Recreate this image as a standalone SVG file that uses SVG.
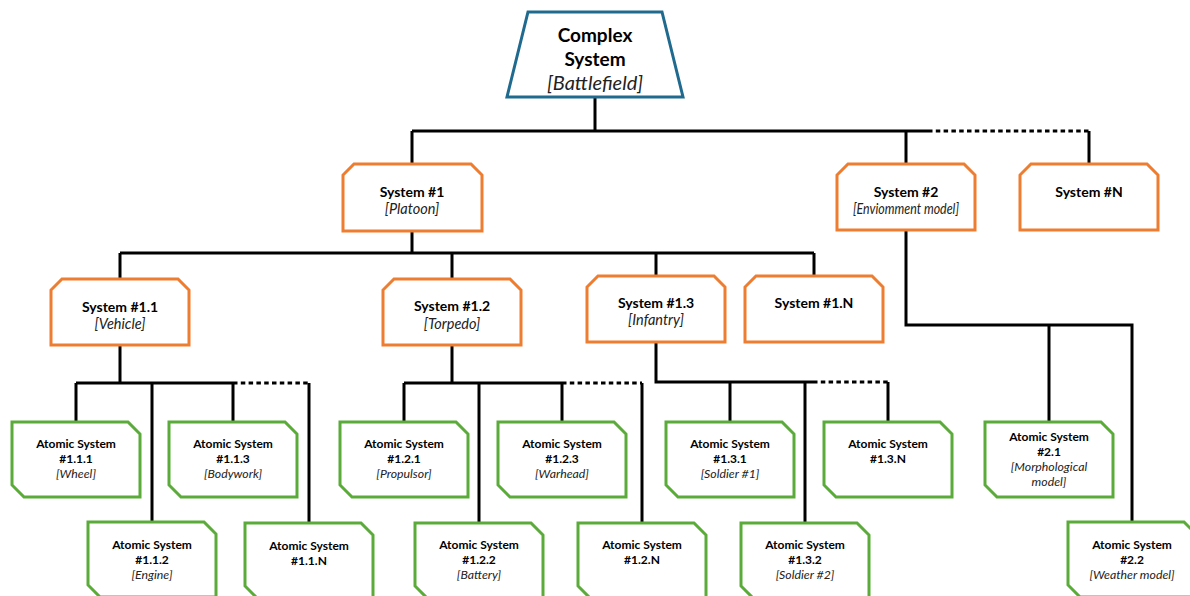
<svg xmlns="http://www.w3.org/2000/svg" width="1190" height="596" viewBox="0 0 1190 596">
<style>
.bg{fill:#ffffff}
.wire{fill:none;stroke:#000;stroke-width:3}
.dash{fill:none;stroke:#000;stroke-width:3;stroke-dasharray:4.5 3.3}
.cx{fill:#fff;stroke:#1F6A8E;stroke-width:3}
.sys{fill:#fff;stroke:#ED7D31;stroke-width:3}
.atm{fill:#fff;stroke:#5AAB3A;stroke-width:3}
text{font-family:Lato,"Liberation Sans",sans-serif;text-anchor:middle;fill:#000}
.t1{font-size:19px;font-weight:bold}
.t1i{font-size:20px;font-style:italic;fill:#222}
.t2{font-size:14px;font-weight:bold}
.t2i{font-size:14.5px;font-style:italic;fill:#222}
.t3{font-size:12px;font-weight:bold}
.t3i{font-size:12.3px;font-style:italic;fill:#222}
</style>
<rect class="bg" x="0" y="0" width="1190" height="596"/>
<g id="connectors">
<path class="wire" d="M595,98 V131 M412,131 H928 M412,131 V164 M906,131 V164 M1089,131 V164"/>
<path class="dash" d="M928,131 H1089"/>
<path class="wire" d="M412,231 V253 M120,253 H814 M120,253 V279 M452,253 V279 M656,253 V276 M814,253 V276"/>
<path class="wire" d="M120,345 V383 M76,383 H233 M76,383 V422 M152,383 V522 M233,383 V422 M309,383 V523"/>
<path class="dash" d="M233,383 H309"/>
<path class="wire" d="M452,345 V383 M404,383 H562 M404,383 V422 M479,383 V523 M562,383 V422 M642,383 V523"/>
<path class="dash" d="M562,383 H642"/>
<path class="wire" d="M656,342 V382 H813 M730,382 V422 M805,382 V523 M888,382 V422"/>
<path class="dash" d="M813,382 H888"/>
<path class="wire" d="M906,230 V325 H1132 V522 M1049,325 V422"/>
</g>
<g id="complex-system">
<polygon class="cx" points="528,12 662,12 683,97 507,97"/>
<text class="t1" x="595" y="42">Complex</text>
<text class="t1" x="595" y="66">System</text>
<text class="t1i" x="595" y="90">[Battlefield]</text>
</g>
<g id="system-1">
<path class="sys" d="M354,164 H471 L482,175 V231 H343 V175 Z"/>
<text class="t2" x="412" y="197">System #1</text>
<text class="t2i" x="412" y="214">[Platoon]</text>
</g>
<g id="system-2">
<path class="sys" d="M848,164 H964 L975,175 V230 H837 V175 Z"/>
<text class="t2" x="906" y="197">System #2</text>
<text class="t2i" x="906" y="214" textLength="106" lengthAdjust="spacingAndGlyphs">[Enviomment model]</text>
</g>
<g id="system-n">
<path class="sys" d="M1031,164 H1147 L1158,175 V230 H1020 V175 Z"/>
<text class="t2" x="1089" y="197">System #N</text>
</g>
<g id="system-1-1">
<path class="sys" d="M62,279 H178 L189,290 V345 H51 V290 Z"/>
<text class="t2" x="120" y="312">System #1.1</text>
<text class="t2i" x="120" y="329">[Vehicle]</text>
</g>
<g id="system-1-2">
<path class="sys" d="M394,279 H510 L521,290 V345 H383 V290 Z"/>
<text class="t2" x="452" y="311">System #1.2</text>
<text class="t2i" x="452" y="329">[Torpedo]</text>
</g>
<g id="system-1-3">
<path class="sys" d="M598,276 H714 L725,287 V342 H587 V287 Z"/>
<text class="t2" x="656" y="308">System #1.3</text>
<text class="t2i" x="656" y="325">[Infantry]</text>
</g>
<g id="system-1-n">
<path class="sys" d="M756,276 H872 L883,287 V342 H745 V287 Z"/>
<text class="t2" x="814" y="308">System #1.N</text>
</g>
<g id="atomic-1-1-1">
<path class="atm" d="M12,422 H128 L140,434 V497 H24 L12,485 Z"/>
<text class="t3" x="76" y="448">Atomic System</text>
<text class="t3" x="76" y="463">#1.1.1</text>
<text class="t3i" x="76" y="478">[Wheel]</text>
</g>
<g id="atomic-1-1-2">
<path class="atm" d="M88,522 H204 L216,534 V597 H100 L88,585 Z"/>
<text class="t3" x="152" y="549">Atomic System</text>
<text class="t3" x="152" y="564">#1.1.2</text>
<text class="t3i" x="152" y="579">[Engine]</text>
</g>
<g id="atomic-1-1-3">
<path class="atm" d="M169,422 H285 L297,434 V497 H181 L169,485 Z"/>
<text class="t3" x="233" y="448">Atomic System</text>
<text class="t3" x="233" y="463">#1.1.3</text>
<text class="t3i" x="233" y="478">[Bodywork]</text>
</g>
<g id="atomic-1-1-n">
<path class="atm" d="M245,523 H361 L373,535 V598 H257 L245,586 Z"/>
<text class="t3" x="309" y="550">Atomic System</text>
<text class="t3" x="309" y="565">#1.1.N</text>
</g>
<g id="atomic-1-2-1">
<path class="atm" d="M340,422 H456 L468,434 V497 H352 L340,485 Z"/>
<text class="t3" x="404" y="448">Atomic System</text>
<text class="t3" x="404" y="463">#1.2.1</text>
<text class="t3i" x="404" y="478">[Propulsor]</text>
</g>
<g id="atomic-1-2-2">
<path class="atm" d="M415,523 H531 L543,535 V598 H427 L415,586 Z"/>
<text class="t3" x="479" y="549">Atomic System</text>
<text class="t3" x="479" y="564">#1.2.2</text>
<text class="t3i" x="479" y="579">[Battery]</text>
</g>
<g id="atomic-1-2-3">
<path class="atm" d="M498,422 H614 L626,434 V497 H510 L498,485 Z"/>
<text class="t3" x="562" y="448">Atomic System</text>
<text class="t3" x="562" y="463">#1.2.3</text>
<text class="t3i" x="562" y="478">[Warhead]</text>
</g>
<g id="atomic-1-2-n">
<path class="atm" d="M578,523 H694 L706,535 V598 H590 L578,586 Z"/>
<text class="t3" x="642" y="549">Atomic System</text>
<text class="t3" x="642" y="564">#1.2.N</text>
</g>
<g id="atomic-1-3-1">
<path class="atm" d="M666,422 H782 L794,434 V497 H678 L666,485 Z"/>
<text class="t3" x="730" y="448">Atomic System</text>
<text class="t3" x="730" y="463">#1.3.1</text>
<text class="t3i" x="730" y="478">[Soldier #1]</text>
</g>
<g id="atomic-1-3-2">
<path class="atm" d="M741,523 H857 L869,535 V598 H753 L741,586 Z"/>
<text class="t3" x="805" y="549">Atomic System</text>
<text class="t3" x="805" y="564">#1.3.2</text>
<text class="t3i" x="805" y="579">[Soldier #2]</text>
</g>
<g id="atomic-1-3-n">
<path class="atm" d="M824,422 H940 L952,434 V497 H836 L824,485 Z"/>
<text class="t3" x="888" y="448">Atomic System</text>
<text class="t3" x="888" y="463">#1.3.N</text>
</g>
<g id="atomic-2-1">
<path class="atm" d="M985,422 H1101 L1113,434 V497 H997 L985,485 Z"/>
<text class="t3" x="1049" y="441">Atomic System</text>
<text class="t3" x="1049" y="456">#2.1</text>
<text class="t3i" x="1049" y="471">[Morphological</text>
<text class="t3i" x="1049" y="486">model]</text>
</g>
<g id="atomic-2-2">
<path class="atm" d="M1068,522 H1184 L1196,534 V597 H1080 L1068,585 Z"/>
<text class="t3" x="1132" y="549">Atomic System</text>
<text class="t3" x="1132" y="564">#2.2</text>
<text class="t3i" x="1132" y="579">[Weather model]</text>
</g>
</svg>
